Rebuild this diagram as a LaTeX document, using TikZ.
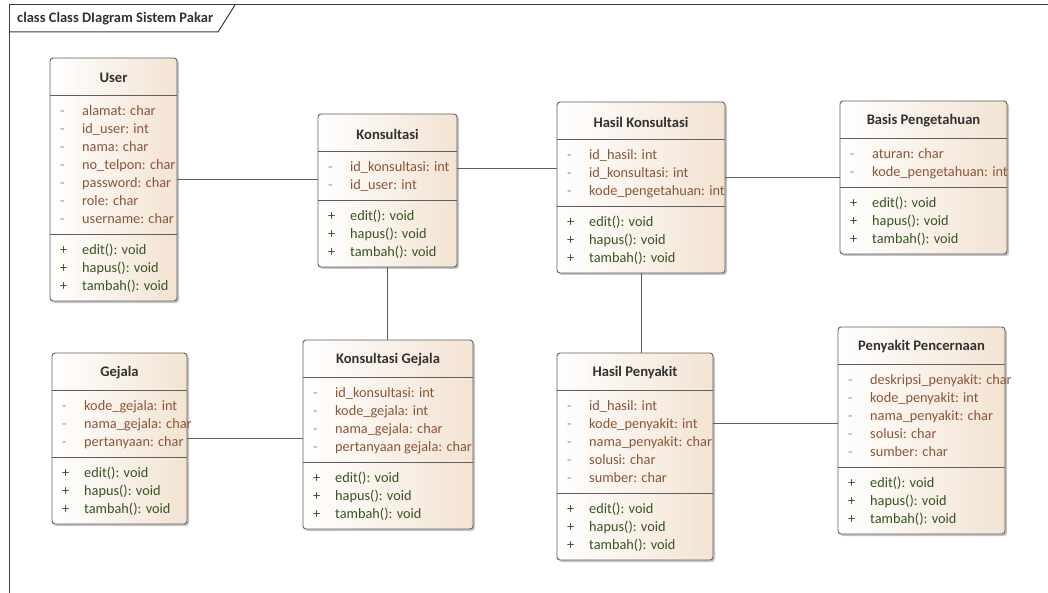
\documentclass[tikz,border=0pt]{standalone}
\usepackage{fontspec}
\setmainfont{Carlito}
\usepackage{array}
\usetikzlibrary{positioning,shadows}

\definecolor{boxline}{RGB}{95,95,95}
\definecolor{classfill}{RGB}{243,227,210}
\definecolor{attrc}{RGB}{140,85,55}
\definecolor{methc}{RGB}{55,85,35}
\definecolor{minusc}{RGB}{150,140,135}
\definecolor{titlec}{RGB}{50,50,50}
\definecolor{framec}{RGB}{60,60,60}

\begin{document}
\begin{tikzpicture}[x=1pt, y=-1pt,
    classbox/.style={rectangle, draw=boxline, line width=0.9pt, rounded corners=3pt,
      left color=white, right color=classfill, inner sep=0pt, outer sep=0pt, anchor=north west,
      drop shadow={shadow xshift=2pt, shadow yshift=-2pt, fill=black!45, opacity=0.5}},
    classtitle/.style={font=\fontsize{14.6}{18}\selectfont\bfseries, text=titlec, inner sep=0pt},
    attrs/.style={font=\fontsize{14.3}{18}\selectfont, text=attrc, inner sep=0pt, anchor=north west},
    meths/.style={font=\fontsize{14.3}{18}\selectfont, text=methc, inner sep=0pt, anchor=north west},
    sepline/.style={draw=boxline, line width=0.8pt},
    assoc/.style={draw=boxline, line width=0.8pt},
    frameline/.style={draw=framec, line width=1pt}]
  \useasboundingbox (0,0) rectangle (1048,593);

  % frame
  \draw[frameline] (9,593) -- (9,5) -- (1048,5);
  \draw[frameline] (9,32) -- (218,32) -- (235,5);
  \node[font=\fontsize{14.5}{17}\selectfont\bfseries, text=titlec, anchor=west, inner sep=0pt] (frametitle) at (17,19) {class Class DIagram Sistem Pakar};

  % User
  \node[classbox, minimum width=127pt, minimum height=243pt] (user) at (50,58) {};
  \node[classtitle] (user-t) at ([yshift=-20pt]user.north) {User};
  \draw[sepline] ([yshift=-37pt]user.north west) -- ([yshift=-37pt]user.north east);
  \draw[sepline] ([yshift=-176pt]user.north west) -- ([yshift=-176pt]user.north east);
  \node[attrs] (user-a) at ([xshift=10pt, yshift=-45pt]user.north west) {\begin{tabular}{@{}>{\color{minusc}}w{l}{22pt}@{}l@{}}
    - & alamat: char\\ - & id\_user: int\\ - & nama: char\\ - & no\_telpon: char\\
    - & password: char\\ - & role: char\\ - & username: char\end{tabular}};
  \node[meths] (user-m) at ([xshift=10pt, yshift=-183.5pt]user.north west) {\begin{tabular}{@{}w{l}{22pt}@{}l@{}}
    + & edit(): void\\ + & hapus(): void\\ + & tambah(): void\end{tabular}};

  % Konsultasi
  \node[classbox, minimum width=139pt, minimum height=153pt] (kons) at (318,114) {};
  \node[classtitle] (kons-t) at ([yshift=-20pt]kons.north) {Konsultasi};
  \draw[sepline] ([yshift=-37pt]kons.north west) -- ([yshift=-37pt]kons.north east);
  \draw[sepline] ([yshift=-86pt]kons.north west) -- ([yshift=-86pt]kons.north east);
  \node[attrs] (kons-a) at ([xshift=10pt, yshift=-45pt]kons.north west) {\begin{tabular}{@{}>{\color{minusc}}w{l}{22pt}@{}l@{}}
    - & id\_konsultasi: int\\ - & id\_user: int\end{tabular}};
  \node[meths] (kons-m) at ([xshift=10pt, yshift=-93.5pt]kons.north west) {\begin{tabular}{@{}w{l}{22pt}@{}l@{}}
    + & edit(): void\\ + & hapus(): void\\ + & tambah(): void\end{tabular}};

  % Hasil Konsultasi
  \node[classbox, minimum width=168pt, minimum height=171pt] (hk) at (557,102) {};
  \node[classtitle] (hk-t) at ([yshift=-20pt]hk.north) {Hasil Konsultasi};
  \draw[sepline] ([yshift=-37pt]hk.north west) -- ([yshift=-37pt]hk.north east);
  \draw[sepline] ([yshift=-104pt]hk.north west) -- ([yshift=-104pt]hk.north east);
  \node[attrs] (hk-a) at ([xshift=10pt, yshift=-45pt]hk.north west) {\begin{tabular}{@{}>{\color{minusc}}w{l}{22pt}@{}l@{}}
    - & id\_hasil: int\\ - & id\_konsultasi: int\\ - & kode\_pengetahuan: int\end{tabular}};
  \node[meths] (hk-m) at ([xshift=10pt, yshift=-111.5pt]hk.north west) {\begin{tabular}{@{}w{l}{22pt}@{}l@{}}
    + & edit(): void\\ + & hapus(): void\\ + & tambah(): void\end{tabular}};

  % Basis Pengetahuan
  \node[classbox, minimum width=167pt, minimum height=153pt] (basis) at (840,101) {};
  \node[classtitle] (basis-t) at ([yshift=-20pt]basis.north) {Basis Pengetahuan};
  \draw[sepline] ([yshift=-37pt]basis.north west) -- ([yshift=-37pt]basis.north east);
  \draw[sepline] ([yshift=-86pt]basis.north west) -- ([yshift=-86pt]basis.north east);
  \node[attrs] (basis-a) at ([xshift=10pt, yshift=-45pt]basis.north west) {\begin{tabular}{@{}>{\color{minusc}}w{l}{22pt}@{}l@{}}
    - & aturan: char\\ - & kode\_pengetahuan: int\end{tabular}};
  \node[meths] (basis-m) at ([xshift=10pt, yshift=-93.5pt]basis.north west) {\begin{tabular}{@{}w{l}{22pt}@{}l@{}}
    + & edit(): void\\ + & hapus(): void\\ + & tambah(): void\end{tabular}};

  % Gejala
  \node[classbox, minimum width=135pt, minimum height=171pt] (gejala) at (52,353) {};
  \node[classtitle] (gejala-t) at ([yshift=-20pt]gejala.north) {Gejala};
  \draw[sepline] ([yshift=-37pt]gejala.north west) -- ([yshift=-37pt]gejala.north east);
  \draw[sepline] ([yshift=-104pt]gejala.north west) -- ([yshift=-104pt]gejala.north east);
  \node[attrs] (gejala-a) at ([xshift=10pt, yshift=-45pt]gejala.north west) {\begin{tabular}{@{}>{\color{minusc}}w{l}{22pt}@{}l@{}}
    - & kode\_gejala: int\\ - & nama\_gejala: char\\ - & pertanyaan: char\end{tabular}};
  \node[meths] (gejala-m) at ([xshift=10pt, yshift=-111.5pt]gejala.north west) {\begin{tabular}{@{}w{l}{22pt}@{}l@{}}
    + & edit(): void\\ + & hapus(): void\\ + & tambah(): void\end{tabular}};

  % Konsultasi Gejala
  \node[classbox, minimum width=170pt, minimum height=189pt] (kg) at (303,340) {};
  \node[classtitle] (kg-t) at ([yshift=-20pt]kg.north) {Konsultasi Gejala};
  \draw[sepline] ([yshift=-37pt]kg.north west) -- ([yshift=-37pt]kg.north east);
  \draw[sepline] ([yshift=-122pt]kg.north west) -- ([yshift=-122pt]kg.north east);
  \node[attrs] (kg-a) at ([xshift=10pt, yshift=-45pt]kg.north west) {\begin{tabular}{@{}>{\color{minusc}}w{l}{22pt}@{}l@{}}
    - & id\_konsultasi: int\\ - & kode\_gejala: int\\ - & nama\_gejala: char\\ - & pertanyaan gejala: char\end{tabular}};
  \node[meths] (kg-m) at ([xshift=10pt, yshift=-129.5pt]kg.north west) {\begin{tabular}{@{}w{l}{22pt}@{}l@{}}
    + & edit(): void\\ + & hapus(): void\\ + & tambah(): void\end{tabular}};

  % Hasil Penyakit
  \node[classbox, minimum width=156pt, minimum height=207pt] (hp) at (557,353) {};
  \node[classtitle] (hp-t) at ([yshift=-20pt]hp.north) {Hasil Penyakit};
  \draw[sepline] ([yshift=-37pt]hp.north west) -- ([yshift=-37pt]hp.north east);
  \draw[sepline] ([yshift=-140pt]hp.north west) -- ([yshift=-140pt]hp.north east);
  \node[attrs] (hp-a) at ([xshift=10pt, yshift=-45pt]hp.north west) {\begin{tabular}{@{}>{\color{minusc}}w{l}{22pt}@{}l@{}}
    - & id\_hasil: int\\ - & kode\_penyakit: int\\ - & nama\_penyakit: char\\ - & solusi: char\\ - & sumber: char\end{tabular}};
  \node[meths] (hp-m) at ([xshift=10pt, yshift=-147.5pt]hp.north west) {\begin{tabular}{@{}w{l}{22pt}@{}l@{}}
    + & edit(): void\\ + & hapus(): void\\ + & tambah(): void\end{tabular}};

  % Penyakit Pencernaan
  \node[classbox, minimum width=167pt, minimum height=207pt] (pp) at (838,327) {};
  \node[classtitle] (pp-t) at ([yshift=-20pt]pp.north) {Penyakit Pencernaan};
  \draw[sepline] ([yshift=-37pt]pp.north west) -- ([yshift=-37pt]pp.north east);
  \draw[sepline] ([yshift=-140pt]pp.north west) -- ([yshift=-140pt]pp.north east);
  \node[attrs] (pp-a) at ([xshift=10pt, yshift=-45pt]pp.north west) {\begin{tabular}{@{}>{\color{minusc}}w{l}{22pt}@{}l@{}}
    - & deskripsi\_penyakit: char\\ - & kode\_penyakit: int\\ - & nama\_penyakit: char\\ - & solusi: char\\ - & sumber: char\end{tabular}};
  \node[meths] (pp-m) at ([xshift=10pt, yshift=-147.5pt]pp.north west) {\begin{tabular}{@{}w{l}{22pt}@{}l@{}}
    + & edit(): void\\ + & hapus(): void\\ + & tambah(): void\end{tabular}};

  % associations
  \draw[assoc] (user.east) -- (user.east -| kons.west);
  \draw[assoc] ([yshift=22pt]kons.east) -- ([yshift=22pt]kons.east -| hk.west);
  \draw[assoc] (basis.west -| hk.east) -- (basis.west);
  \draw[assoc] (kons.south) -- (kons.south |- kg.north);
  \draw[assoc] (hk.south) -- (hk.south |- hp.north);
  \draw[assoc] (gejala.east) -- (gejala.east -| kg.west);
  \draw[assoc] ([yshift=7pt]pp.west -| hp.east) -- ([yshift=7pt]pp.west);
\end{tikzpicture}
\end{document}
